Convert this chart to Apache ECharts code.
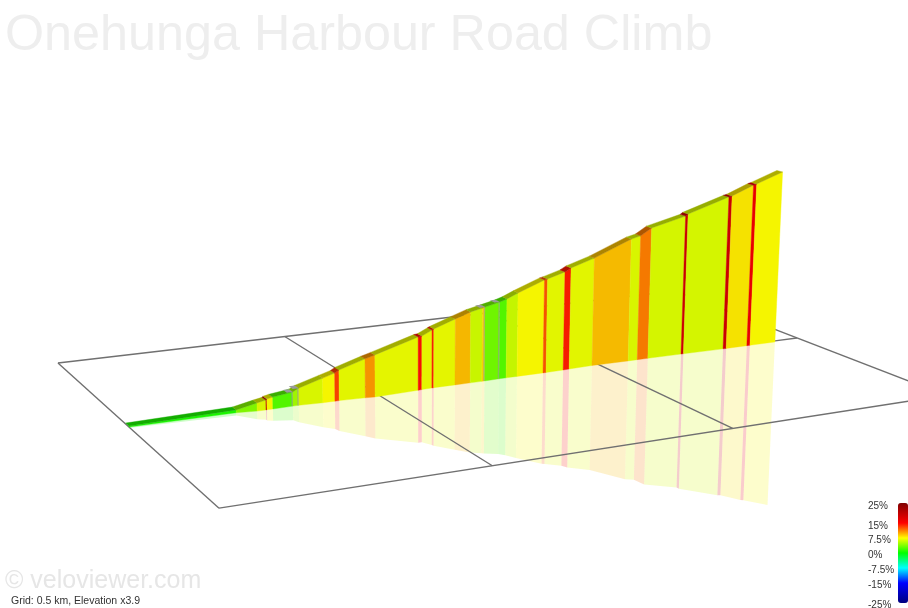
<!DOCTYPE html>
<html>
<head>
<meta charset="utf-8">
<style>
  html, body { margin: 0; padding: 0; background: #fff; }
  #chart { width: 908px; height: 608px; }
</style>
<script src="https://cdn.jsdelivr.net/npm/echarts@6/dist/echarts.min.js"></script>
</head>
<body>
<div id="chart"></div>
<script>
// climb profile
const distanceKm = [0, 0.209, 0.251, 0.269, 0.271, 0.283, 0.324, 0.336, 0.386, 0.411, 0.42, 0.475, 0.496,
  0.589, 0.597, 0.619, 0.623, 0.67, 0.704, 0.73, 0.736, 0.769, 0.785, 0.81, 0.87, 0.877, 0.917, 0.931,
  0.985, 1.072, 1.094, 1.12, 1.202, 1.208, 1.308, 1.316, 1.369, 1.377, 1.442];
const elevationM = [0.4, 1.2, 3.0, 3.7, 4.1, 4.6, 5.7, 7.0, 10.0, 11.5, 12.6, 16.0, 17.2,
  22.7, 22.9, 25.0, 25.4, 28.7, 31.0, 32.1, 32.4, 33.9, 34.9, 37.0, 41.5, 41.8, 44.1, 45.6,
  48.9, 55.8, 56.8, 59.9, 63.8, 64.6, 70.7, 71.0, 75.1, 75.5, 80.0];
// the foot of the wall sits a little under the grid plane
const groundM = [0, 0, -0.5, -0.5, -0.5, -0.5, -0.4, -0.4, -0.7, -0.7, -0.7, -1.0, -1.2,
  -0.8, -0.7, -0.6, -0.6, -0.6, -0.6, -0.6, -0.6, -0.5, -0.5, -0.5, -0.5, -0.5, -0.4, -0.3,
  -0.1, -0.2, -0.2, -0.2, -0.3, -0.3, -0.5, -0.5, -0.5, -0.5, -0.5];
const gradientPct = [0.8, 3.9, 6.6, 20, 7.5, 2.5, 4.9, 6.6, 7.5, 13, 6.9, 10.5, 7.0,
  14.5, 7.0, 14, 7.0, 9.4, 6.1, 8.5, 3.4, 2.5, 6.0, 7.5, 12.5, 6.9, 14.2, 6.9,
  9.3, 6.6, 11.3, 6.5, 18.5, 6.5, 18.5, 8.1, 16, 7.5];
// points where the road doubles back and shows a grey face
const stepPoints = [6, 7, 20, 21];

const gridKm = [0, 0.5, 1, 1.5];
const gridSideKm = [-0.5, 0.5];
const roadWidthKm = 0.021;

const scaleTicks = [25, 15, 7.5, 0, -7.5, -15, -25];
const scaleColors = ['#800000', '#ff0000', '#ffff00', '#00ff00', '#00ffff', '#0000ff', '#00007f'];

// fixed view of the scene: km along, m up, km across -> picture position
function project(d, elev, side) {
    const u = d / 0.5, h = elev / 80, v = (side || 0) / 0.5;
    const w = 1 + 0.0603 * u - 0.0245 * h - 0.118 * v;
    return [
        (129 + 270.7 * u - 10.2 * h + 64.2 * v) / w,
        (427 - 9.3 * u - 202.5 * h + 21.2 * v) / w
    ];
}

function colorAt(g) {
    for (let i = 0; i < scaleTicks.length - 1; i++) {
        if (g <= scaleTicks[i] && g >= scaleTicks[i + 1]) {
            const t = (scaleTicks[i] - g) / (scaleTicks[i] - scaleTicks[i + 1]);
            return echarts.color.lerp(t, [scaleColors[i], scaleColors[i + 1]]);
        }
    }
}

function shade(color, f) {
    const c = echarts.color.parse(color);
    return 'rgb(' + Math.round(c[0] * f) + ',' + Math.round(c[1] * f) + ',' + Math.round(c[2] * f) + ')';
}

function polygon(api, pts, style) {
    return {
        type: 'polygon',
        shape: { points: pts.map(p => api.coord(p)) },
        style: style
    };
}

function mirrored(i) {
    return 2 * groundM[i] - elevationM[i];
}

function renderReflection(params, api) {
    const i = api.value(0);
    return polygon(api, [
        project(distanceKm[i], groundM[i]), project(distanceKm[i + 1], groundM[i + 1]),
        project(distanceKm[i + 1], mirrored(i + 1)), project(distanceKm[i], mirrored(i))
    ], { fill: shade(api.visual('color'), 0.96), opacity: 0.2 });
}

function renderWall(params, api) {
    const i = api.value(0);
    const c = shade(api.visual('color'), 0.96);
    return polygon(api, [
        project(distanceKm[i], groundM[i]), project(distanceKm[i + 1], groundM[i + 1]),
        project(distanceKm[i + 1], elevationM[i + 1]), project(distanceKm[i], elevationM[i])
    ], { fill: c, stroke: c, lineWidth: 0.4 });
}

function renderRoad(params, api) {
    const i = api.value(0);
    const c = shade(api.visual('color'), 0.68);
    return polygon(api, [
        project(distanceKm[i], elevationM[i]), project(distanceKm[i + 1], elevationM[i + 1]),
        project(distanceKm[i + 1], elevationM[i + 1], -roadWidthKm), project(distanceKm[i], elevationM[i], -roadWidthKm)
    ], { fill: c, stroke: c, lineWidth: 0.4 });
}

function renderStep(params, api) {
    const i = api.value(0);
    const d = distanceKm[i], e = elevationM[i];
    return {
        type: 'group',
        children: [
            polygon(api, [project(d - 0.003, groundM[i]), project(d, groundM[i]), project(d, e), project(d - 0.003, e)],
                { fill: '#9a9a9a', opacity: 0.6 }),
            polygon(api, [project(d - 0.012, e), project(d, e), project(d, e, -roadWidthKm), project(d - 0.012, e, -roadWidthKm)],
                { fill: '#9a9a9a' })
        ]
    };
}

function renderGridLine(params, api) {
    const l = gridLines[api.value(0)];
    const a = api.coord(project(l[0], 0, l[1]));
    const b = api.coord(project(l[2], 0, l[3]));
    return {
        type: 'line',
        shape: { x1: a[0], y1: a[1], x2: b[0], y2: b[1] },
        style: { stroke: '#707070', lineWidth: 1.4 }
    };
}

const gridLines = [];
gridKm.forEach(k => gridLines.push([k, gridSideKm[0], k, gridSideKm[1]]));
gridSideKm.forEach(s => gridLines.push([gridKm[0], s, gridKm[gridKm.length - 1], s]));
gridLines.push([distanceKm[distanceKm.length - 1], 0, gridKm[gridKm.length - 1], 0]);

const chart = echarts.init(document.getElementById('chart'));
const segments = gradientPct.map((g, i) => [i, g]);

const colorSteps = [];
for (let g = -25; g <= 25; g += 1.25) colorSteps.push(colorAt(g));

const scaleLabels = scaleTicks.map(t => ({
    type: 'text',
    left: 868,
    top: 556.5 - t * 1.98 - 6,
    style: { text: t + '%', font: '10px "Liberation Sans"', fill: '#333' }
}));

chart.setOption({
    animation: false,
    title: {
        text: 'Onehunga Harbour Road Climb',
        left: 5,
        top: 11,
        padding: 0,
        textStyle: { fontFamily: 'Liberation Sans', fontSize: 50.3, fontWeight: 'normal', color: '#eeeeee' }
    },
    grid: { left: 0, right: 0, top: 0, bottom: 0 },
    xAxis: { type: 'value', min: 0, max: 908, show: false },
    yAxis: { type: 'value', min: 0, max: 608, inverse: true, show: false },
    visualMap: {
        type: 'continuous',
        min: -25,
        max: 25,
        dimension: 1,
        seriesIndex: [0, 2, 3],
        calculable: false,
        showLabel: false,
        text: ['', ''],
        itemWidth: 10,
        itemHeight: 100,
        left: 898,
        top: 503,
        padding: 0,
        inRange: { color: colorSteps }
    },
    graphic: [
        {
            type: 'text', left: 5, top: 569,
            style: { text: '© veloviewer.com', font: '25px "Liberation Sans"', fill: '#e6e6e6' }
        },
        {
            type: 'text', left: 11, top: 596,
            style: { text: 'Grid: 0.5 km, Elevation x3.9', font: '10.5px "Liberation Sans"', fill: '#333' }
        }
    ].concat(scaleLabels),
    series: [
        { type: 'custom', renderItem: renderReflection, data: segments, z: 1 },
        { type: 'custom', renderItem: renderGridLine, data: gridLines.map((l, i) => [i, 0]), z: 2 },
        { type: 'custom', renderItem: renderWall, data: segments, z: 3 },
        { type: 'custom', renderItem: renderRoad, data: segments, z: 4 },
        { type: 'custom', renderItem: renderStep, data: stepPoints.map(i => [i, 0]), z: 5 }
    ]
});
</script>
</body>
</html>
